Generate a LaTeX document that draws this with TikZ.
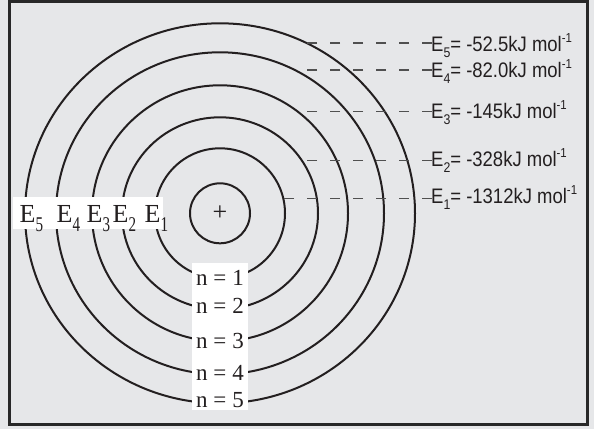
\documentclass[tikz,border=0pt]{standalone}
\usepackage{fontspec}
\usepackage{graphicx}
\setmainfont{Liberation Serif}
\newfontfamily\lsans[FakeStretch=0.88]{Liberation Sans}
\definecolor{bgc}{RGB}{230,231,233}
\definecolor{ink}{RGB}{35,31,32}
\definecolor{framec}{RGB}{40,40,40}
\definecolor{dashc}{RGB}{80,80,80}
\newcommand\rsub[1]{\raisebox{-6pt}{\fontsize{14}{14}\selectfont #1}}
\newcommand\rsup[1]{\raisebox{9pt}{\fontsize{13}{13}\selectfont #1}}
\newcommand\lsub[1]{\raisebox{-9pt}{\scalebox{0.72}[1]{\fontsize{21}{21}\selectfont #1}}}
\tikzset{
  orbit/.style={draw=ink, line width=2pt},
  nucleus/.style={circle, draw=ink, line width=2pt, minimum size=60pt, inner sep=0pt, text=ink, font=\fontsize{26}{26}\selectfont},
  level/.style={draw=dashc, line width=1.2pt, dash pattern=on 10pt off 13pt},
  rlab/.style={inner sep=0pt, text=ink, font=\lsans\fontsize{21}{24}\selectfont},
  elab/.style={inner sep=0pt, text=ink, font=\fontsize{26}{26}\selectfont},
  nlab/.style={inner sep=0pt, text=ink, font=\fontsize{23}{23}\selectfont},
  whitebox/.style={fill=white, draw=none, inner sep=0pt}
}
\begin{document}
\begin{tikzpicture}[x=1pt, y=-1pt]
  \fill[bgc] (0,0) rectangle (594,429);
  \useasboundingbox (0,0) rectangle (594,429);
  \draw[framec, line width=2.6pt] (9.5,1.3) rectangle (587.3,424.2);
  \coordinate (c) at (220,213.3);
  % orbits
  \draw[orbit] (c) ellipse [x radius=65pt, y radius=65pt];
  \draw[orbit] (c) ellipse [x radius=98pt, y radius=96pt];
  \draw[orbit] (c) ellipse [x radius=128pt, y radius=128pt];
  \draw[orbit] (c) ellipse [x radius=164pt, y radius=161pt];
  \draw[orbit] (c) ellipse [x radius=195pt, y radius=190pt];
  \node[nucleus] (nuc) at (c) {+};
  % energy labels
  \node[rlab, anchor=base west] (l5) at (431,51.7) {E\rsub{5}= -52.5kJ mol\rsup{-1}};
  \node[rlab, anchor=base west] (l4) at (431,77.5) {E\rsub{4}= -82.0kJ mol\rsup{-1}};
  \node[rlab, anchor=base west] (l3) at (431,118.5) {E\rsub{3}= -145kJ mol\rsup{-1}};
  \node[rlab, anchor=base west] (l2) at (431,166) {E\rsub{2}= -328kJ mol\rsup{-1}};
  \node[rlab, anchor=base west] (l1) at (431,203.5) {E\rsub{1}= -1312kJ mol\rsup{-1}};
  \coordinate (s5) at (306.5,43);
  \coordinate (s4) at (294.8,70);
  \coordinate (s3) at (297.9,111.7);
  \coordinate (s2) at (302,160.7);
  \coordinate (s1) at (283.2,198.3);
  \foreach \i in {1,...,5}{
    \draw[level] ([xshift=1pt]l\i.west |- s\i) -- (s\i);
  }
  % left labels
  \node[whitebox, minimum width=150pt, minimum height=32pt] (ebox) at (88,213) {};
  \node[elab, anchor=base west] (e5) at (19.5,222) {E\lsub{5}};
  \node[elab, anchor=base west] (e4) at (56.5,222) {E\lsub{4}};
  \node[elab, anchor=base west] (e3) at (86.5,222) {E\lsub{3}};
  \node[elab, anchor=base west] (e2) at (112.5,222) {E\lsub{2}};
  \node[elab, anchor=base west] (e1) at (144.5,222) {E\lsub{1}};
  % n labels
  \node[whitebox, minimum width=56pt, minimum height=147pt] (nbox) at (220,336.5) {};
  \node[nlab, anchor=base] (n1) at (220,285) {n\hspace{6pt}=\hspace{6pt}1};
  \node[nlab, anchor=base] (n2) at (220,313) {n\hspace{6pt}=\hspace{6pt}2};
  \node[nlab, anchor=base] (n3) at (220,348) {n\hspace{6pt}=\hspace{6pt}3};
  \node[nlab, anchor=base] (n4) at (220,380) {n\hspace{6pt}=\hspace{6pt}4};
  \node[nlab, anchor=base] (n5) at (220,407.5) {n\hspace{6pt}=\hspace{6pt}5};
\end{tikzpicture}
\end{document}
